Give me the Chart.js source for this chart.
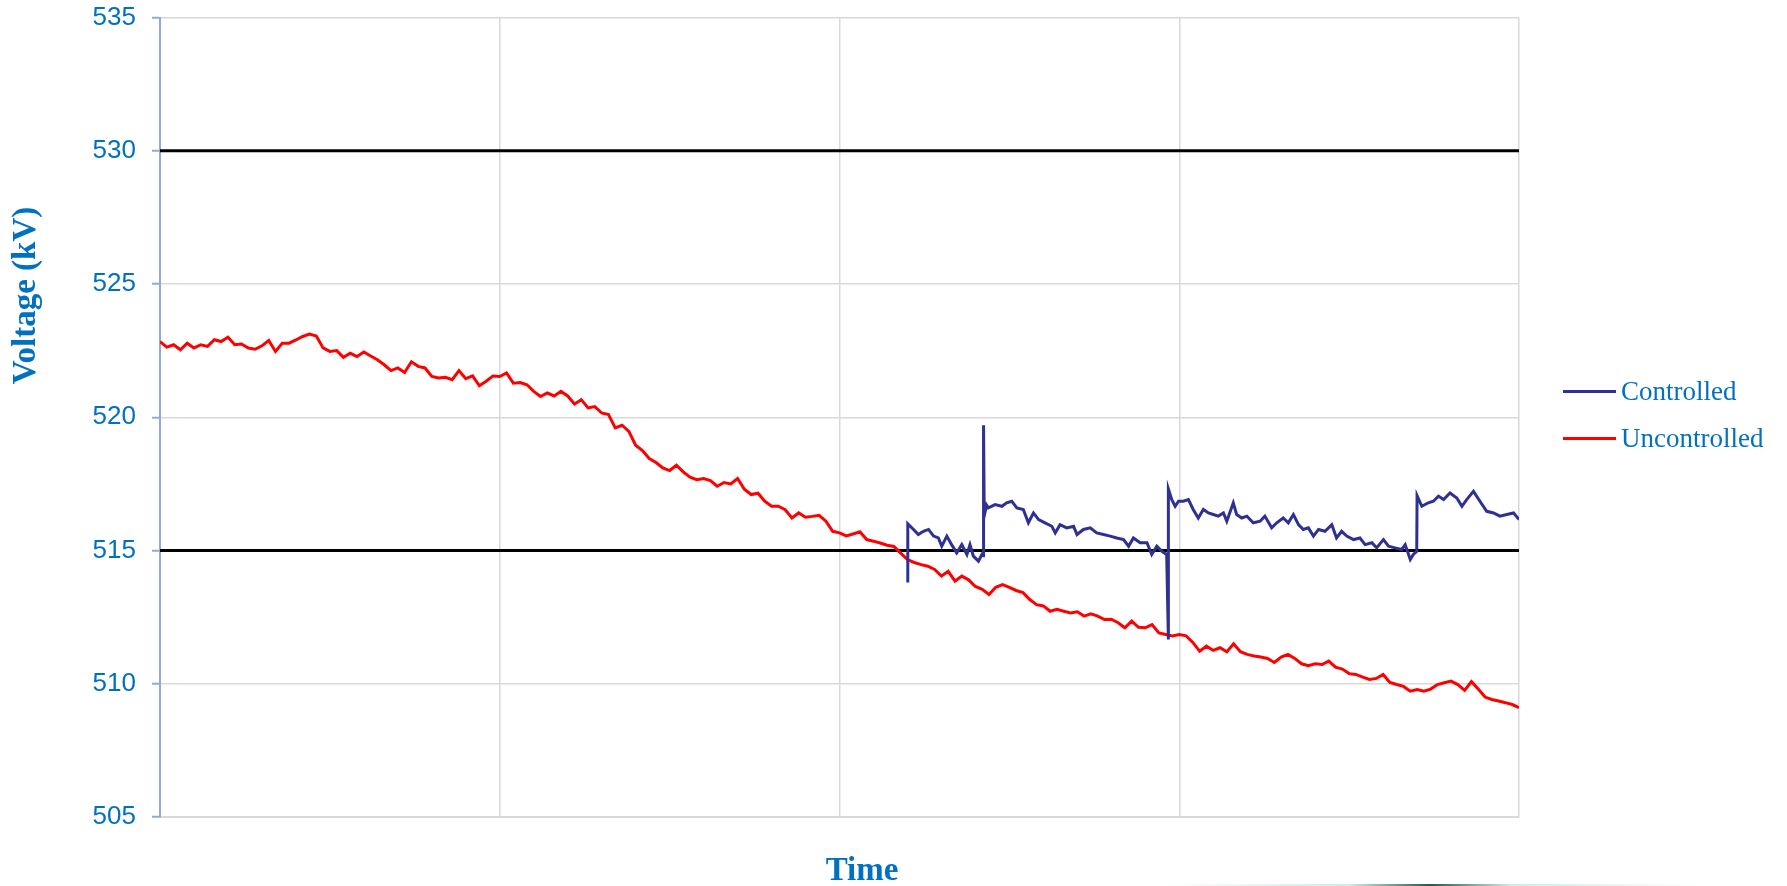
<!DOCTYPE html>
<html>
<head>
<meta charset="utf-8">
<title>Voltage</title>
<script src="https://cdn.jsdelivr.net/npm/chart.js@4.4.1/dist/chart.umd.min.js"></script>
<style>
  html, body { margin: 0; padding: 0; background: #ffffff; }
  #wrap { position: relative; width: 1787px; height: 886px; }
  #strip {
    position: absolute; bottom: 0; left: 1160px; width: 540px; height: 2px;
    background: linear-gradient(to right, rgba(190,238,224,0), #c8f0e4 35%, #1d5e4e 50%, #c8f0e4 65%, rgba(190,238,224,0));
  }
</style>
</head>
<body>
<div id="wrap">
  <canvas id="voltageChart"></canvas>
  <div id="strip"></div>
</div>
<script>
// axis texts
const xTitle = 'Time';
const yTitle = 'Voltage (kV)';
const yTicks = [505, 510, 515, 520, 525, 530, 535];

// limits drawn as black lines
const limitValues = [530, 515];

// Uncontrolled : one reading every 2 time units, from 0 to 400
const uncontrolledStep = 2;
const uncontrolledVolt = [
  522.84, 522.63, 522.72, 522.53, 522.78, 522.60, 522.72, 522.66, 522.91, 522.84,
  523.00, 522.72, 522.75, 522.60, 522.55, 522.68, 522.88, 522.47, 522.78, 522.78,
  522.90, 523.03, 523.12, 523.05, 522.60, 522.47, 522.50, 522.25, 522.40, 522.28,
  522.45, 522.30, 522.16, 521.97, 521.75, 521.85, 521.68, 522.08, 521.91, 521.85,
  521.53, 521.47, 521.50, 521.41, 521.75, 521.45, 521.55, 521.18, 521.35, 521.55,
  521.53, 521.66, 521.28, 521.30, 521.22, 520.97, 520.78, 520.91, 520.80, 520.97,
  520.80, 520.50, 520.66, 520.35, 520.40, 520.16, 520.10, 519.60, 519.70, 519.47,
  518.95, 518.75, 518.45, 518.30, 518.10, 518.00, 518.20, 517.95, 517.75, 517.66,
  517.70, 517.62, 517.41, 517.55, 517.50, 517.70, 517.30, 517.10, 517.15, 516.85,
  516.66, 516.66, 516.53, 516.22, 516.41, 516.25, 516.28, 516.32, 516.10, 515.72,
  515.66, 515.55, 515.62, 515.70, 515.41, 515.35, 515.28, 515.20, 515.15, 514.90,
  514.66, 514.55, 514.47, 514.41, 514.29, 514.04, 514.22, 513.85, 514.04, 513.90,
  513.65, 513.54, 513.35, 513.62, 513.72, 513.62, 513.50, 513.42, 513.16, 512.97,
  512.92, 512.72, 512.79, 512.72, 512.66, 512.70, 512.54, 512.62, 512.54, 512.41,
  512.42, 512.29, 512.10, 512.35, 512.12, 512.10, 512.22, 511.91, 511.85, 511.79,
  511.85, 511.80, 511.55, 511.22, 511.41, 511.25, 511.35, 511.20, 511.50, 511.20,
  511.10, 511.04, 511.00, 510.95, 510.80, 511.00, 511.10, 510.95, 510.75, 510.68,
  510.75, 510.72, 510.85, 510.62, 510.55, 510.38, 510.35, 510.25, 510.16, 510.20,
  510.35, 510.05, 509.97, 509.90, 509.72, 509.78, 509.72, 509.80, 509.97, 510.04,
  510.10, 509.97, 509.75, 510.08, 509.80, 509.50, 509.41, 509.35, 509.29, 509.22,
  509.10
];

// Controlled : starts later, with the tap steps
const controlledTime = [
  220.1, 220.1, 221.8, 223.2, 224.7, 226.2, 227.7, 229.1, 230.1, 231.6,
  233.0, 234.5, 236.0, 237.5, 238.4, 239.4, 240.9, 241.9, 242.3, 242.4,
  242.6, 243.3, 243.8, 245.8, 247.8, 249.2, 250.7, 252.2, 254.1, 255.6,
  257.1, 258.6, 260.5, 262.5, 263.5, 264.9, 266.9, 268.9, 269.9, 271.8,
  273.8, 275.7, 277.7, 279.7, 281.6, 283.6, 285.1, 286.5, 288.5, 290.5,
  291.9, 293.4, 294.9, 296.3, 296.8, 296.8, 297.8, 298.8, 299.8, 301.2,
  302.7, 304.1, 305.6, 307.1, 308.6, 310.0, 311.5, 313.0, 314.0, 315.9,
  316.9, 318.4, 319.9, 321.8, 323.8, 325.2, 327.2, 328.7, 330.6, 332.1,
  333.6, 335.1, 336.5, 338.0, 339.5, 341.0, 342.9, 344.9, 346.3, 347.8,
  349.3, 351.3, 353.2, 354.7, 356.7, 358.1, 360.1, 361.6, 363.5, 365.5,
  366.5, 368.0, 368.9, 369.9, 370.0, 371.4, 373.3, 374.8, 376.3, 377.8,
  379.7, 381.7, 383.2, 384.6, 386.6, 388.5, 390.5, 392.5, 394.4, 396.4,
  398.4, 400.0
];
const controlledVolt = [
  513.80, 516.00, 515.79, 515.60, 515.72, 515.79, 515.54, 515.47, 515.16, 515.54,
  515.22, 514.91, 515.22, 514.85, 515.22, 514.79, 514.60, 514.85, 514.80, 519.70,
  516.30, 516.70, 516.60, 516.72, 516.66, 516.79, 516.85, 516.60, 516.54, 516.04,
  516.41, 516.16, 516.04, 515.91, 515.66, 515.97, 515.85, 515.91, 515.60, 515.79,
  515.85, 515.66, 515.60, 515.54, 515.47, 515.41, 515.16, 515.47, 515.29, 515.29,
  514.85, 515.16, 514.97, 514.85, 511.66, 517.31, 516.91, 516.66, 516.85, 516.85,
  516.91, 516.54, 516.22, 516.54, 516.41, 516.35, 516.29, 516.41, 516.10, 516.79,
  516.35, 516.22, 516.29, 516.04, 516.10, 516.29, 515.85, 516.04, 516.22, 516.04,
  516.35, 515.97, 515.79, 515.85, 515.54, 515.79, 515.72, 515.97, 515.47, 515.72,
  515.54, 515.41, 515.47, 515.22, 515.29, 515.10, 515.41, 515.16, 515.10, 515.04,
  515.22, 514.66, 514.85, 514.97, 517.06, 516.66, 516.79, 516.85, 517.04, 516.91,
  517.16, 516.97, 516.66, 516.91, 517.22, 516.85, 516.47, 516.41, 516.29, 516.35,
  516.41, 516.16
];

const timeMin = 0;
const timeMax = 400;

// points for the library
const uncontrolledPoints = uncontrolledVolt.map((v, i) => ({ x: i * uncontrolledStep, y: v }));
const controlledPoints = controlledVolt.map((v, i) => ({ x: controlledTime[i], y: v }));
const limitSets = limitValues.map(v => ({
  label: 'limit ' + v,
  data: [{ x: timeMin, y: v }, { x: timeMax, y: v }],
  borderColor: '#000000',
  borderWidth: 3,
  pointRadius: 0,
  showInLegend: false
}));

const blueText = '#0070C0';
const gridGrey = '#d9d9d9';
const axisBlue = '#8FAADC';

// titles and legend drawn like the Excel sheet
const excelExtras = {
  id: 'excelExtras',
  afterDraw(chart) {
    const { ctx, chartArea } = chart;
    ctx.save();
    ctx.fillStyle = blueText;
    ctx.textAlign = 'center';
    ctx.textBaseline = 'middle';
    ctx.font = 'bold 33px "Liberation Serif", Cambria, serif';
    ctx.fillText(xTitle, chartArea.left + 702, chartArea.bottom + 54);
    ctx.save();
    ctx.translate(chartArea.left - 134, chartArea.top + 278);
    ctx.rotate(-Math.PI / 2);
    ctx.fillText(yTitle, 0, 0);
    ctx.restore();

    // legend : only the two measured series
    ctx.font = '27px "Liberation Serif", Cambria, serif';
    ctx.textAlign = 'left';
    const legendX = chartArea.right + 44;
    let legendY = chartArea.top + 374;
    chart.data.datasets.forEach(ds => {
      if (ds.showInLegend === false) return;
      ctx.strokeStyle = ds.borderColor;
      ctx.lineWidth = 3;
      ctx.beginPath();
      ctx.moveTo(legendX, legendY);
      ctx.lineTo(legendX + 53, legendY);
      ctx.stroke();
      ctx.fillStyle = blueText;
      ctx.fillText(ds.label, legendX + 58, legendY + 1);
      legendY += 47;
    });
    ctx.restore();
  }
};

const ctxVoltage = document.getElementById('voltageChart').getContext('2d');
const voltageChart = new Chart(ctxVoltage, {
  type: 'line',
  data: {
    datasets: [
      {
        label: 'Controlled',
        data: controlledPoints,
        borderColor: '#2E3192',
        borderWidth: 3,
        pointRadius: 0,
        tension: 0
      },
      {
        label: 'Uncontrolled',
        data: uncontrolledPoints,
        borderColor: '#FF0000',
        borderWidth: 3,
        pointRadius: 0,
        tension: 0
      },
      ...limitSets
    ]
  },
  options: {
    responsive: true,
    maintainAspectRatio: false,
    animation: false,
    layout: {
      padding: { left: 0, right: 268, top: 17.5, bottom: 0 }
    },
    plugins: {
      legend: { display: false },
      tooltip: { enabled: false }
    },
    scales: {
      x: {
        type: 'linear',
        min: timeMin,
        max: timeMax,
        afterFit: scale => { scale.height = 69; },
        ticks: { display: false, stepSize: 100 },
        grid: {
          color: c => (c.tick && c.tick.value === timeMin ? 'rgba(0,0,0,0)' : gridGrey),
          lineWidth: 1.5,
          drawTicks: false
        },
        border: { color: gridGrey, width: 2 }
      },
      y: {
        type: 'linear',
        min: yTicks[0],
        max: yTicks[yTicks.length - 1],
        // fixed width, and no extra room asked for the end labels
        afterFit: scale => {
          scale.width = 160;
          scale.paddingTop = 0;
          scale.paddingBottom = 0;
        },
        afterBuildTicks: scale => { scale.ticks = yTicks.map(v => ({ value: v })); },
        ticks: {
          color: blueText,
          padding: 16,
          font: { family: '"Liberation Sans", Arial, sans-serif', size: 26 }
        },
        grid: {
          color: gridGrey,
          lineWidth: 1.5,
          tickLength: 8,
          tickColor: axisBlue,
          tickWidth: 2
        },
        border: { color: axisBlue, width: 2 }
      }
    }
  },
  plugins: [excelExtras]
});
</script>
</body>
</html>
